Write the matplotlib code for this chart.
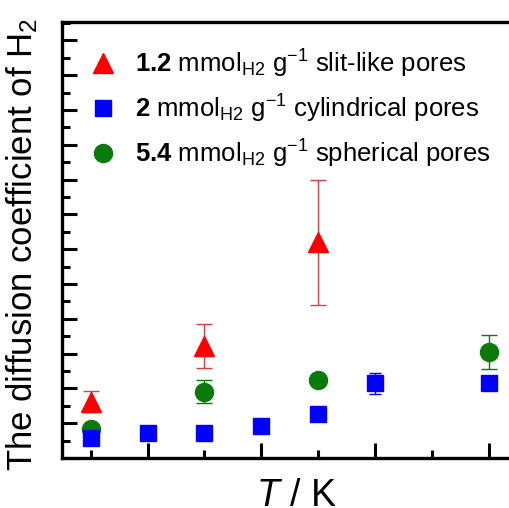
import matplotlib
matplotlib.use('Agg')
import matplotlib.pyplot as plt
from matplotlib.ticker import FixedLocator, MultipleLocator, NullFormatter

plt.rcParams['font.family'] = 'Liberation Sans'
plt.rcParams['mathtext.fontset'] = 'custom'
plt.rcParams['mathtext.rm'] = 'Liberation Sans'
plt.rcParams['mathtext.it'] = 'Liberation Sans:italic'
plt.rcParams['mathtext.bf'] = 'Liberation Sans:bold'

# ── Data (x = temperature step index, no tick labels in the original) ──────
t_slit = [0, 2, 4]
d_slit = [1.62, 3.21, 6.2]
e_slit = [0.30, 0.63, 1.8]

t_cyl = [0, 1, 2, 3, 4, 5, 7]
d_cyl = [0.57, 0.73, 0.72, 0.93, 1.27, 2.15, 2.15]
e_cyl = [0.05, 0.05, 0.06, 0.08, 0.12, 0.30, 0.10]

t_sph = [0, 2, 4, 7]
d_sph = [0.82, 1.90, 2.24, 3.05]
e_sph = [0.0, 0.33, 0.05, 0.49]

lab_slit = r'$\mathbf{1.2}$ mmol$_{\rm H2}$ g$^{-1}$ slit-like pores'
lab_cyl = r'$\mathbf{2}$ mmol$_{\rm H2}$ g$^{-1}$ cylindrical pores'
lab_sph = r'$\mathbf{5.4}$ mmol$_{\rm H2}$ g$^{-1}$ spherical pores'

RED = '#ff0000'; RED_E = '#e04040'; BLUE = '#0000ff'; GREEN = '#0a7a0a'

fig = plt.figure(figsize=(5.09, 5.08), dpi=100)
ax = fig.add_axes([62 / 509, 50 / 508, 447 / 509, 436 / 508])

c1 = ax.errorbar(t_slit, d_slit, yerr=e_slit, fmt='^', color=RED, ms=14,
                 ecolor=RED_E, elinewidth=1.0, capsize=5.5, capthick=1.0,
                 zorder=4)
c2 = ax.errorbar(t_cyl, d_cyl, yerr=e_cyl, fmt='s', color=BLUE, ms=11.5,
                 ecolor=BLUE, elinewidth=1.0, capsize=4.5, capthick=1.0,
                 zorder=3)
c3 = ax.errorbar(t_sph, d_sph, yerr=e_sph, fmt='o', color=GREEN, ms=13,
                 ecolor=GREEN, elinewidth=1.0, capsize=6, capthick=1.0,
                 zorder=2)

# keep caps/bars behind their markers (short bars hide inside the symbol)
for cont, z in [(c1, 4), (c2, 3), (c3, 2)]:
    cont[0].set_zorder(z + 0.5)
    for cap in cont[1]:
        cap.set_zorder(z)
    for bar in cont[2]:
        bar.set_zorder(z)

ax.set_xlim(-0.505, 7.36)
ax.set_ylim(0, 12.53)

ax.xaxis.set_major_locator(FixedLocator([1, 3, 5, 7]))
ax.xaxis.set_minor_locator(FixedLocator([0, 2, 4, 6]))
ax.yaxis.set_major_locator(MultipleLocator(1))
ax.yaxis.set_minor_locator(MultipleLocator(0.5))
ax.xaxis.set_major_formatter(NullFormatter())
ax.yaxis.set_major_formatter(NullFormatter())
ax.tick_params(which='both', direction='in', top=False, right=False, width=2.2)
ax.tick_params(which='major', length=11)
ax.tick_params(which='minor', length=6)

for side in ['left', 'bottom', 'top']:
    ax.spines[side].set_linewidth(2.4)
ax.spines['right'].set_visible(False)

ax.set_xlabel(r'$T$ / K', fontsize=27)
ax.xaxis.set_label_coords((296 - 62) / 447, -0.045)
ax.xaxis.label.set_va('top')
ax.set_ylabel(r'The diffusion coefficient of H$_2$', fontsize=25)
ax.yaxis.set_label_coords(-0.05, 0.49)

ax.legend([c1[0], c2[0], c3[0]], [lab_slit, lab_cyl, lab_sph],
          loc='upper left', bbox_to_anchor=(0.04, 0.965), frameon=False,
          fontsize=18.5, handlelength=1.0, handletextpad=0.75, labelspacing=0.5,
          borderaxespad=0)

fig.savefig('out.png', dpi=100)
